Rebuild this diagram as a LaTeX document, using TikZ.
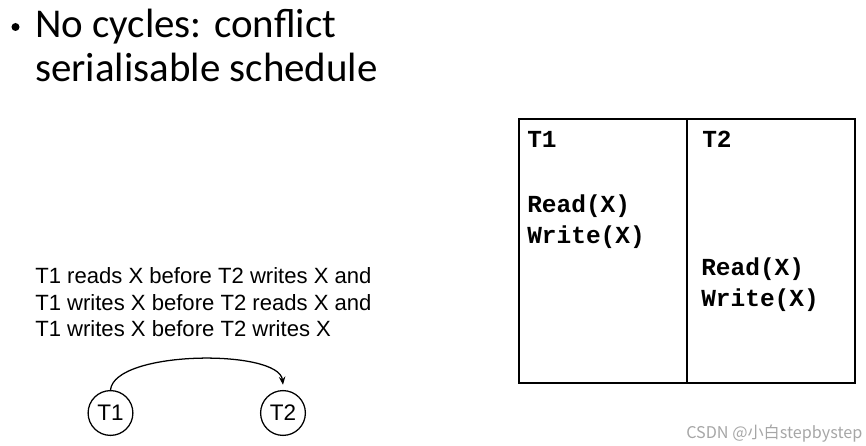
\documentclass[tikz,border=0pt]{standalone}
\usepackage{fontspec}
\setmainfont{Carlito}
\newfontfamily\plainsans{Liberation Sans}
\newfontfamily\codefont{Liberation Mono}
\newfontfamily\cjkfont{Noto Sans CJK SC}
\usetikzlibrary{arrows.meta, positioning}

\begin{document}
\begin{tikzpicture}[x=0.025cm, y=-0.025cm,
  headline/.style={font=\fontsize{29.1}{34}\selectfont, anchor=base west, inner sep=0pt},
  ruleline/.style={font=\plainsans\fontsize{15.7}{18}\selectfont, anchor=base west, inner sep=0pt},
  codeline/.style={font=\codefont\bfseries\fontsize{17.4}{20}\selectfont, anchor=base west, inner sep=0pt},
  txnode/.style={draw, circle, line width=0.9pt, minimum size=1.12cm, inner sep=0pt,
    font=\plainsans\fontsize{16}{18}\selectfont}]
  \useasboundingbox (0,0) rectangle (866,446);
  % Bullet heading
  \node[circle, fill=black, minimum size=0.2cm, inner sep=0pt] (bul) at (15.5,27) {};
  \node[headline] (head1) at (35,38) {No cycles: conflict};
  \node[headline] (head2) at (35,82) {serialisable schedule};
  % Conflict pairs
  \node[ruleline] (r1) at (35,283) {T1 reads X before T2 writes X and};
  \node[ruleline] (r2) at (35,310) {T1 writes X before T2 reads X and};
  \node[ruleline] (r3) at (35,336) {T1 writes X before T2 writes X};
  % Precedence graph
  \node[txnode] (t1) at (110.5,413) {T1};
  \node[txnode] (t2) at (283,413) {T2};
  \draw[line width=0.9pt, -{Stealth[length=2mm, width=1.6mm]}]
    (t1.north) .. controls +(4,-40) and +(-4,-36) .. ([yshift=1.3mm]t2.north);
  % Schedule table
  \coordinate (tl) at (519,119);
  \coordinate (br) at (855,383);
  \coordinate (mtop) at (687,119);
  \coordinate (mbot) at (687,383);
  \draw[line width=1.3pt] (tl) rectangle (br);
  \draw[line width=1.3pt] (mtop) -- (mbot);
  \node[codeline] (h1) at (527,147) {T1};
  \node[codeline] (h2) at (702,147) {T2};
  \node[codeline] (a1) at (527,212) {Read(X)};
  \node[codeline] (a2) at (527,243) {Write(X)};
  \node[codeline] (b1) at (701,275) {Read(X)};
  \node[codeline] (b2) at (701,306) {Write(X)};
  % Watermark
  \node[font=\cjkfont\fontsize{11.5}{13}\selectfont, text=black!35, anchor=base west, inner sep=0pt]
    (mark) at (686,438) {CSDN @小白stepbystep};
\end{tikzpicture}
\end{document}
